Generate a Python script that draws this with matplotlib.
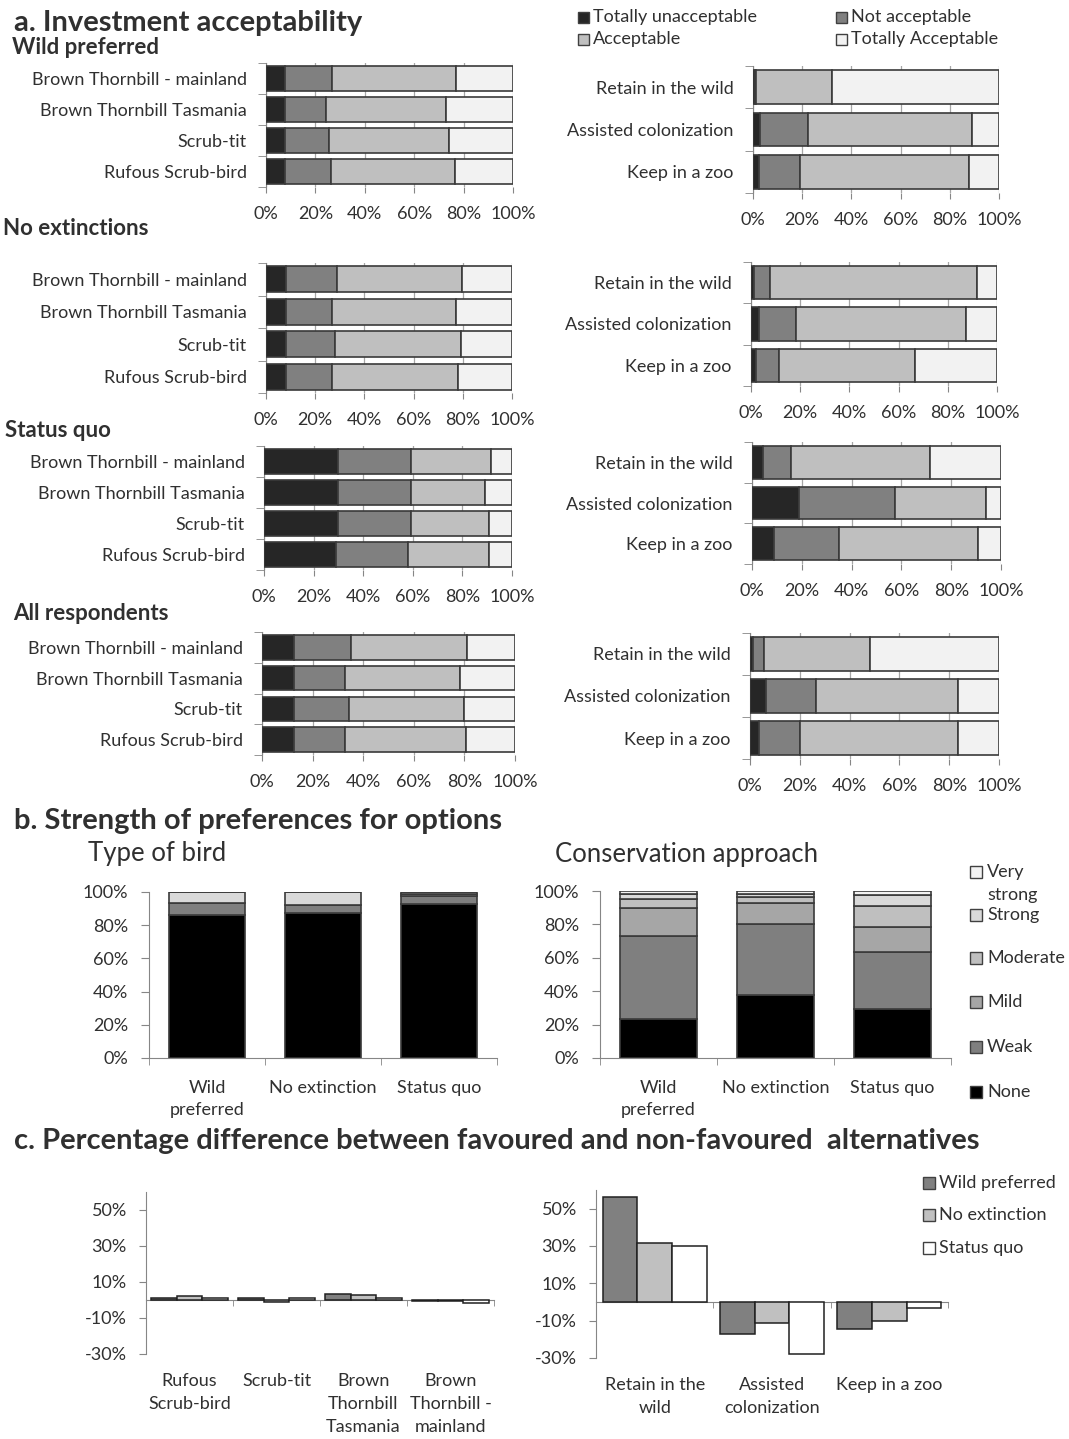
import numpy as np
import matplotlib
matplotlib.use("Agg")
import matplotlib.pyplot as plt
from matplotlib.patches import Rectangle
from matplotlib.transforms import blended_transform_factory

W, H = 1069, 1439
plt.rcParams['font.family'] = ['Lato', 'DejaVu Sans']
plt.rcParams['font.size'] = 13

TXT = '#303030'
AXC = '#868686'
EDGE = '#3a3a3a'

# ---- a. investment acceptability (% of respondents) ----
birds = ['Brown Thornbill - mainland', 'Brown Thornbill Tasmania', 'Scrub-tit', 'Rufous Scrub-bird']
approaches = ['Retain in the wild', 'Assisted colonization', 'Keep in a zoo']
accept_levels = ['Totally unacceptable', 'Not acceptable', 'Acceptable', 'Totally Acceptable']
accept_colors = ['#262626', '#808080', '#bfbfbf', '#f2f2f2']

# columns follow accept_levels
wild_birds = [[7.7, 18.9, 50.4, 23.0], [7.7, 16.4, 48.9, 27.0],
              [7.7, 17.8, 48.5, 26.0], [7.7, 18.5, 50.4, 23.4]]
wild_approach = [[0.8, 0.4, 30.8, 68.0], [3.0, 19.4, 66.6, 11.0], [2.5, 16.7, 68.8, 12.0]]
noext_birds = [[8.1, 20.9, 50.6, 20.4], [8.1, 18.6, 50.7, 22.6],
               [8.1, 19.8, 51.4, 20.7], [8.1, 18.9, 51.2, 21.8]]
noext_approach = [[1.4, 6.5, 84.1, 8.0], [3.3, 15.1, 69.1, 12.5], [1.9, 9.6, 55.1, 33.4]]
sq_birds = [[29.7, 29.7, 32.3, 8.3], [29.7, 29.7, 29.8, 10.8],
            [29.7, 29.7, 31.3, 9.3], [29.2, 28.8, 32.8, 9.2]]
sq_approach = [[4.5, 11.1, 55.8, 28.6], [19.0, 38.6, 36.2, 6.2], [8.8, 26.2, 55.8, 9.2]]
all_birds = [[12.5, 22.5, 46.2, 18.8], [12.5, 20.4, 45.3, 21.8],
             [12.5, 21.8, 45.6, 20.1], [12.5, 20.4, 47.6, 19.5]]
all_approach = [[1.4, 4.4, 42.4, 51.8], [6.5, 20.1, 57.1, 16.3], [3.8, 16.2, 63.7, 16.3]]

# ---- b. strength of preferences ----
scenarios = ['Wild\npreferred', 'No extinction', 'Status quo']
strength = ['None', 'Weak', 'Mild', 'Moderate', 'Strong', 'Very strong']
strength_colors = ['#000000', '#7f7f7f', '#a6a6a6', '#bfbfbf', '#d9d9d9', '#f2f2f2']
bird_strength = [[86.1, 7.1, 0.0, 0.0, 6.8, 0.0],
                 [87.1, 5.3, 0.0, 0.0, 7.6, 0.0],
                 [92.8, 5.0, 1.0, 0.0, 1.2, 0.0]]
approach_strength = [[23.1, 49.8, 17.1, 5.5, 3.0, 1.5],
                     [37.6, 42.9, 12.3, 3.4, 2.2, 1.6],
                     [29.1, 34.2, 15.2, 12.5, 6.4, 2.6]]

# ---- c. favoured minus non-favoured (%) ----
diff_bird_labels = ['Rufous\nScrub-bird', 'Scrub-tit', 'Brown\nThornbill\nTasmania',
                    'Brown\nThornbill -\nmainland']
diff_approach_labels = ['Retain in the\nwild', 'Assisted\ncolonization', 'Keep in a zoo']
diff_series = ['Wild preferred', 'No extinction', 'Status quo']
diff_colors = ['#808080', '#c0c0c0', '#ffffff']
diff_birds = [[1.1, 0.9, 3.5, -0.7],
              [2.0, -0.9, 2.8, -0.7],
              [0.9, 1.1, 0.9, -1.9]]
diff_approach = [[56.4, -17.4, -14.4],
                 [31.5, -11.0, -10.3],
                 [29.9, -27.8, -3.0]]

fig = plt.figure(figsize=(W / 100, H / 100), dpi=100)
fig.patch.set_facecolor('white')


def px_axes(x0, y0, x1, y1):
    return fig.add_axes([x0 / W, 1 - y1 / H, (x1 - x0) / W, (y1 - y0) / H])


def ftext(x, y, s, **kw):
    kw.setdefault('color', TXT)
    fig.text(x / W, 1 - y / H, s, **kw)


def swatch(x, y, color, size=11):
    fig.add_artist(Rectangle((x / W, 1 - (y + size / 2) / H), size / W, size / H,
                             transform=fig.transFigure, facecolor=color,
                             edgecolor='#404040', lw=1))


def style_spines(ax):
    for s in ax.spines.values():
        s.set_color(AXC)
    ax.spines['top'].set_visible(False)
    ax.spines['right'].set_visible(False)


def stacked_hbar(box, labels, rows):
    ax = px_axes(*box)
    rows = np.array(rows)
    y = np.arange(len(labels))
    left = np.zeros(len(labels))
    for j, col in enumerate(accept_colors):
        ax.barh(y, rows[:, j], left=left, height=0.8, color=col,
                edgecolor=EDGE, linewidth=1.2, zorder=3)
        left += rows[:, j]
    ax.set_xlim(0, 100)
    ax.set_ylim(len(labels) - 0.5, -0.5)
    style_spines(ax)
    ax.spines['bottom'].set_visible(False)
    ax.set_xticks(np.arange(0, 101, 20))
    ax.set_xticklabels(['%d%%' % v for v in range(0, 101, 20)], color=TXT)
    ax.xaxis.grid(True, color='#a6a6a6', lw=0.9, zorder=0)
    ax.tick_params(axis='x', length=4.5, color=AXC, pad=9.5)
    ax.set_yticks(y)
    ax.set_yticklabels(labels, color=TXT)
    ax.set_yticks(np.arange(len(labels) + 1) - 0.5, minor=True)
    ax.tick_params(axis='y', which='major', length=0, pad=14)
    ax.tick_params(axis='y', which='minor', length=5.8, color=AXC)
    return ax


# panel a rows: (left box, right box, left data, right data)
stacked_hbar((266, 63, 513, 187), birds, wild_birds)
stacked_hbar((753, 66, 999, 193), approaches, wild_approach)
stacked_hbar((266, 263, 512, 393), birds, noext_birds)
stacked_hbar((751, 262, 997, 386), approaches, noext_approach)
stacked_hbar((264, 446, 512, 570), birds, sq_birds)
stacked_hbar((752, 442, 1001, 564), approaches, sq_approach)
stacked_hbar((262, 632, 515, 755), birds, all_birds)
stacked_hbar((750, 633, 999, 759), approaches, all_approach)

ftext(14, 31, 'a. Investment acceptability', fontsize=21, fontweight='bold', va='baseline')
ftext(12, 54, 'Wild preferred', fontsize=16, fontweight='bold', va='baseline')
ftext(3, 235, 'No extinctions', fontsize=16, fontweight='bold', va='baseline')
ftext(5, 437, 'Status quo', fontsize=16, fontweight='bold', va='baseline')
ftext(13, 620, 'All respondents', fontsize=16, fontweight='bold', va='baseline')

# acceptability legend, two columns
for i, (lab, col) in enumerate(zip(accept_levels, accept_colors)):
    lx = 578 if i % 2 == 0 else 836
    ly = 17 if i < 2 else 39
    swatch(lx, ly, col)
    ftext(lx + 15, ly, lab, va='center')


# ---- panel b ----
def stacked_column(box, rows):
    ax = px_axes(*box)
    rows = np.array(rows)
    x = np.arange(len(scenarios))
    bottom = np.zeros(len(scenarios))
    for j, col in enumerate(strength_colors):
        ax.bar(x, rows[:, j], bottom=bottom, width=0.66, color=col,
               edgecolor=EDGE, linewidth=1.2, zorder=3)
        bottom += rows[:, j]
    ax.set_xlim(-0.5, len(scenarios) - 0.5)
    ax.set_ylim(0, 100)
    style_spines(ax)
    ax.set_yticks(np.arange(0, 101, 20))
    ax.set_yticklabels(['%d%%' % v for v in range(0, 101, 20)], color=TXT)
    ax.tick_params(axis='y', length=5.8, color=AXC, pad=9)
    ax.set_xticks(x)
    ax.set_xticklabels(scenarios, color=TXT, linespacing=1.42)
    ax.set_xticks(np.arange(len(scenarios) + 1) - 0.5, minor=True)
    ax.tick_params(axis='x', which='major', length=0, pad=16)
    ax.tick_params(axis='x', which='minor', length=5, color=AXC)
    return ax


stacked_column((149, 892, 497, 1058), bird_strength)
stacked_column((600, 891, 951, 1058), approach_strength)

ftext(14, 829, 'b. Strength of preferences for options', fontsize=21, fontweight='bold',
      va='baseline')
ftext(88, 861, 'Type of bird', fontsize=18.5, va='baseline')
ftext(555, 862, 'Conservation approach', fontsize=18.5, va='baseline')

# strength legend, strongest at the top
legend_rows = [872, 915, 958, 1002, 1047, 1092]
for lab, col, ly in zip(strength[::-1], strength_colors[::-1], legend_rows):
    swatch(970, ly, col, size=12)
    if lab == 'Very strong':
        ftext(987, ly, 'Very', va='center')
        ftext(987, ly + 23, 'strong', va='center')
    else:
        ftext(987, ly, lab, va='center')


# ---- panel c ----
def grouped_diff(box, labels, series, label_top):
    ax = px_axes(*box)
    x = np.arange(len(labels))
    w = 0.296
    for k, (vals, col) in enumerate(zip(series, diff_colors)):
        ax.bar(x + (k - 1) * w, vals, width=w, color=col, edgecolor='#202020',
               linewidth=1.1, zorder=3)
    ax.set_xlim(-0.5, len(labels) - 0.5)
    ax.set_ylim(-30, 60)
    style_spines(ax)
    ax.spines['bottom'].set_position(('data', 0))
    ax.set_yticks([-30, -10, 10, 30, 50])
    ax.set_yticklabels(['-30%', '-10%', '10%', '30%', '50%'], color=TXT)
    ax.tick_params(axis='y', length=4.8, color=AXC, pad=9)
    ax.set_xticks([])
    ax.set_xticks(np.arange(len(labels) + 1) - 0.5, minor=True)
    ax.tick_params(axis='x', which='minor', length=4, color=AXC)
    tr = blended_transform_factory(ax.transData, fig.transFigure)
    for xi, lab in zip(x, labels):
        ax.text(xi, 1 - label_top / H, lab, transform=tr, ha='center', va='top',
                color=TXT, linespacing=1.55)
    return ax


grouped_diff((146, 1192, 494, 1354), diff_bird_labels, diff_birds, 1373)
grouped_diff((596, 1190, 948, 1358), diff_approach_labels, diff_approach, 1377)

ftext(14, 1149, 'c. Percentage difference between favoured and non-favoured  alternatives',
      fontsize=21, fontweight='bold', va='baseline')

for lab, col, ly in zip(diff_series, diff_colors, [1183, 1215, 1248]):
    swatch(923, ly, col, size=12)
    ftext(939, ly, lab, va='center')

fig.savefig('out.png', dpi=100, facecolor='white')
